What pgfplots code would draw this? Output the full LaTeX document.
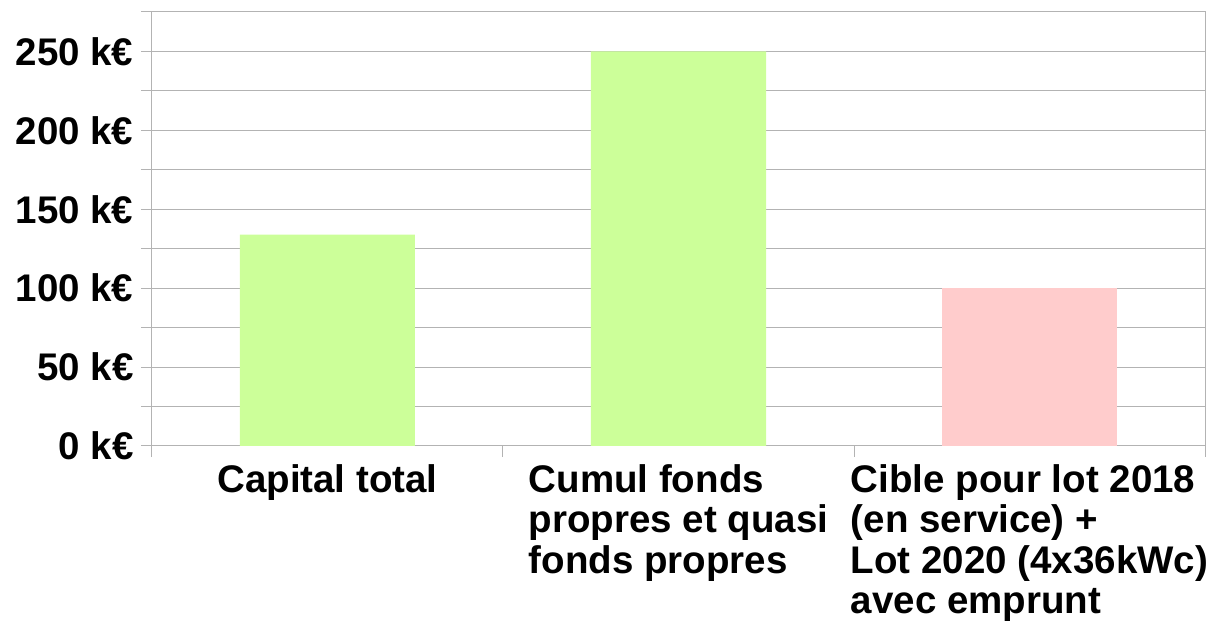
\documentclass[border=0pt]{standalone}
\usepackage{pgfplots}
\pgfplotsset{compat=1.18}
\usepackage{fontspec}
\setmainfont{Liberation Sans}
\definecolor{gridc}{HTML}{B3B3B3}
\definecolor{barg}{HTML}{CCFF99}
\definecolor{barp}{HTML}{FFCCCC}
\begin{document}
\begin{tikzpicture}
\begin{axis}[
  scale only axis,
  width=1053pt, height=434pt,
  xmin=0.5, xmax=3.5,
  ymin=0, ymax=275,
  axis line style={gridc, line width=1pt},
  tick align=outside,
  xtick pos=left, ytick pos=left,
  major tick length=11pt, minor tick length=11pt,
  tick style={gridc, line width=1pt},
  ytick={0,50,100,150,200,250},
  minor ytick={25,75,125,175,225,275},
  yticklabels={0 k€,50 k€,100 k€,150 k€,200 k€,250 k€},
  ymajorgrids, yminorgrids,
  major grid style={gridc, line width=1pt},
  minor grid style={gridc, line width=1pt},
  xtick={0.5,1.5,2.5,3.5},
  xticklabels={},
  extra x ticks={1,2,3},
  extra x tick labels={Capital total,Cumul fonds\\propres et quasi\\fonds propres,Cible pour lot 2018\\(en service) +\\Lot 2020 (4x36kWc)\\avec emprunt},
  extra x tick style={major tick length=0pt, tick style={draw=none}},
  x tick label style={align=left, anchor=north, yshift=-15pt},
  ticklabel style={font=\fontsize{38.5}{40.5}\selectfont\bfseries},
  y tick label style={xshift=-4pt},
  ybar, bar width=175pt, bar shift=0pt,
]
\addplot[fill=barg, draw=none] coordinates {(1,134) (2,250)};
\addplot[fill=barp, draw=none] coordinates {(3,100)};
\end{axis}
\pgfresetboundingbox
\path (-152pt,-177pt) rectangle (1061pt,446pt);
\end{tikzpicture}
\end{document}
